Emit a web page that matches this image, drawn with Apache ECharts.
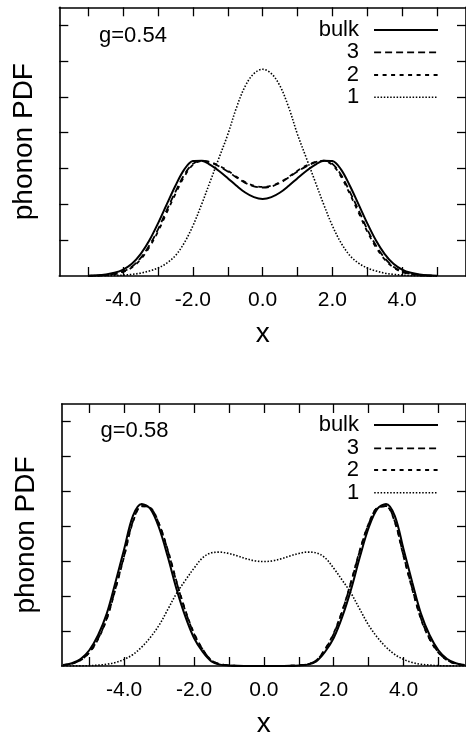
<!DOCTYPE html>
<html><head><meta charset="utf-8">
<script src="https://cdn.jsdelivr.net/npm/echarts@6/dist/echarts.min.js"></script>
<style>html,body{margin:0;padding:0;background:#fff}#c{width:466px;height:739px}</style>
</head><body><div id="c"></div>
<script>
const seriesNames = ['bulk', '3', '2', '1'];
const panelLabels = ['g=0.54', 'g=0.58'];
const xTicks = [-5, -4, -3, -2, -1, 0, 1, 2, 3, 4, 5];
const xTickLabels = [-4, -2, 0, 2, 4];
const yTicks = [0.05, 0.1, 0.15, 0.2, 0.25, 0.3, 0.35];

const topX = [-5,-4.75,-4.5,-4.25,-4,-3.75,-3.5,-3.25,-3,-2.75,-2.5,-2.25,-2,-1.75,-1.5,-1.25,-1,-0.75,-0.5,-0.25,0,0.25,0.5,0.75,1,1.25,1.5,1.75,2,2.25,2.5,2.75,3,3.25,3.5,3.75,4,4.25,4.5,4.75,5];
const topBulk = [0.0005,0.001,0.0022,0.0045,0.009,0.017,0.0305,0.0495,0.0735,0.100,0.126,0.1485,0.1605,0.161,0.155,0.1465,0.1365,0.126,0.1165,0.110,0.1075,0.110,0.1165,0.126,0.1365,0.1465,0.155,0.161,0.1605,0.1485,0.126,0.100,0.0735,0.0495,0.0305,0.017,0.009,0.0045,0.0022,0.001,0.0005];
const top3 = [0.00025,0.0006,0.0015,0.003,0.0065,0.013,0.025,0.0425,0.065,0.092,0.1175,0.141,0.1565,0.161,0.1585,0.153,0.146,0.1375,0.13,0.125,0.1235,0.125,0.13,0.1375,0.146,0.153,0.1585,0.161,0.1565,0.141,0.1175,0.092,0.065,0.0425,0.025,0.013,0.0065,0.003,0.0015,0.0006,0.00025];
const top2 = [0.0002,0.0005,0.001,0.0025,0.0055,0.012,0.023,0.04,0.062,0.0885,0.1145,0.1385,0.155,0.1605,0.159,0.154,0.147,0.1385,0.131,0.126,0.1245,0.126,0.131,0.1385,0.147,0.154,0.159,0.1605,0.155,0.1385,0.1145,0.0885,0.062,0.04,0.023,0.012,0.0055,0.0025,0.001,0.0005,0.0002];
const top1 = [0.00005,0.00015,0.0003,0.0006,0.00125,0.00225,0.004,0.007,0.011,0.018,0.0285,0.046,0.07,0.1,0.1325,0.165,0.1975,0.235,0.265,0.2825,0.2885,0.2825,0.265,0.235,0.1975,0.165,0.1325,0.1,0.07,0.046,0.0285,0.018,0.011,0.007,0.004,0.00225,0.00125,0.0006,0.0003,0.00015,0.00005];

const botX = [-5.75,-5.5,-5.25,-5,-4.75,-4.5,-4.25,-4,-3.75,-3.5,-3.25,-3,-2.75,-2.5,-2.25,-2,-1.75,-1.5,-1.25,-1,-0.75,-0.5,-0.25,0,0.25,0.5,0.75,1,1.25,1.5,1.75,2,2.25,2.5,2.75,3,3.25,3.5,3.75,4,4.25,4.5,4.75,5,5.25,5.5,5.75];
const botBulk = [0.0015,0.004,0.01,0.0225,0.044,0.075,0.12,0.1675,0.215,0.232,0.225,0.1975,0.156,0.11,0.071,0.04,0.02,0.0065,0.002,0.00075,0.00025,0.0001,0,0,0,0.0001,0.00025,0.00075,0.002,0.0065,0.02,0.04,0.071,0.11,0.156,0.1975,0.225,0.232,0.215,0.1675,0.12,0.075,0.044,0.0225,0.01,0.004,0.0015];
const bot3 = [0.0012,0.0033,0.0085,0.0195,0.039,0.068,0.111,0.158,0.207,0.229,0.2265,0.203,0.165,0.12,0.079,0.046,0.0235,0.0078,0.0025,0.0009,0.0003,0.0001,0,0,0,0.0001,0.0003,0.0009,0.0025,0.0078,0.0235,0.046,0.079,0.12,0.165,0.203,0.2265,0.229,0.207,0.158,0.111,0.068,0.039,0.0195,0.0085,0.0033,0.0012];
const bot2 = [0.0011,0.0032,0.0082,0.019,0.038,0.067,0.11,0.157,0.206,0.2285,0.2265,0.2035,0.166,0.121,0.08,0.047,0.024,0.008,0.0026,0.0009,0.0003,0.0001,0,0,0,0.0001,0.0003,0.0009,0.0026,0.008,0.024,0.047,0.08,0.121,0.166,0.2035,0.2265,0.2285,0.206,0.157,0.11,0.067,0.038,0.019,0.0082,0.0032,0.0011];
const bot1 = [0,0.0001,0.0002,0.0005,0.00125,0.0025,0.005,0.0095,0.0165,0.027,0.041,0.0585,0.081,0.104,0.1225,0.14,0.155,0.162,0.163,0.161,0.1575,0.1535,0.1505,0.1495,0.1505,0.1535,0.1575,0.161,0.163,0.162,0.155,0.14,0.1225,0.104,0.081,0.0585,0.041,0.027,0.0165,0.0095,0.005,0.0025,0.00125,0.0005,0.0002,0.0001,0];

const FONT = '"Liberation Sans", Arial, Helvetica, sans-serif';
const lineStyles = [
  { type: 'solid', width: 2 },
  { type: [7, 4], width: 1.8 },
  { type: [4, 4.5], width: 1.8 },
  { type: [1.5, 1.7], width: 1.6 }
];
const panels = [
  { xs: topX, ys: [topBulk, top3, top2, top1], grid: { left: 59.3, top: 7.3, width: 408.1, height: 268.7 }, xr: 5.83, rows: [30, 52.3, 75, 97.3], labelY: 35.8, labelX: 99 },
  { xs: botX, ys: [botBulk, bot3, bot2, bot1], grid: { left: 61.7, top: 404, width: 405.3, height: 266 }, xr: 5.79, rows: [425, 448.3, 470, 492.7], labelY: 431, labelX: 100.5 }
];

const grids = [], xAxes = [], yAxes = [], series = [], legends = [], graphics = [];
panels.forEach((p, pi) => {
  grids.push(p.grid);
  const axLine = { show: true, onZero: false, lineStyle: { color: '#000', width: 1.6 } };
  const tick = (vals) => ({ show: true, inside: true, length: 9, customValues: vals, lineStyle: { color: '#000', width: 1.3 } });
  xAxes.push({
    gridIndex: pi, type: 'value', position: 'bottom', min: -p.xr, max: p.xr,
    axisLine: axLine, axisTick: tick(xTicks), splitLine: { show: false },
    axisLabel: { customValues: xTickLabels, formatter: v => Number(v).toFixed(1), fontSize: 21, color: '#000', fontFamily: FONT, margin: 14 },
    name: 'x', nameLocation: 'middle', nameGap: 44,
    nameTextStyle: { fontSize: 28, color: '#000', fontFamily: FONT }
  });
  xAxes.push({
    gridIndex: pi, type: 'value', position: 'top', min: -p.xr, max: p.xr,
    axisLine: axLine, axisTick: tick(xTicks), splitLine: { show: false },
    axisLabel: { show: false }
  });
  yAxes.push({
    gridIndex: pi, type: 'value', position: 'left', min: 0, max: 0.375,
    axisLine: axLine, axisTick: tick(yTicks), splitLine: { show: false },
    axisLabel: { show: false },
    name: 'phonon PDF', nameLocation: 'middle', nameGap: 21, nameRotate: 90,
    nameTextStyle: { fontSize: 28, color: '#000', fontFamily: FONT }
  });
  yAxes.push({
    gridIndex: pi, type: 'value', position: 'right', min: 0, max: 0.375,
    axisLine: axLine, axisTick: tick(yTicks), splitLine: { show: false },
    axisLabel: { show: false }
  });
  seriesNames.forEach((name, si) => {
    series.push({
      name: name, type: 'line', xAxisIndex: pi * 2, yAxisIndex: pi * 2,
      data: p.xs.map((x, k) => [x, p.ys[si][k]]),
      symbol: 'none', smooth: 0.35,
      itemStyle: { color: '#000' },
      lineStyle: Object.assign({ color: '#000' }, lineStyles[si]),
      animation: false
    });
    legends.push({
      data: [name], right: 27, top: p.rows[si] - 11, padding: 0,
      align: 'right', itemWidth: 64, itemHeight: 12, selectedMode: false,
      itemStyle: { opacity: 0 },
      lineStyle: Object.assign({ color: '#000' }, lineStyles[si]),
      textStyle: { fontSize: 22, color: '#000', fontFamily: FONT, padding: [0, 10, 0, 0] }
    });
  });
  graphics.push({
    type: 'text', x: p.labelX, y: p.labelY,
    style: { text: panelLabels[pi], fontSize: 22, fontFamily: FONT, fill: '#000', align: 'left', verticalAlign: 'middle' }
  });
});

const chart = echarts.init(document.getElementById('c'), null, { renderer: 'canvas' });
chart.setOption({
  backgroundColor: '#fff',
  animation: false,
  grid: grids, xAxis: xAxes, yAxis: yAxes, series: series,
  legend: legends, graphic: graphics
});
</script></body></html>
